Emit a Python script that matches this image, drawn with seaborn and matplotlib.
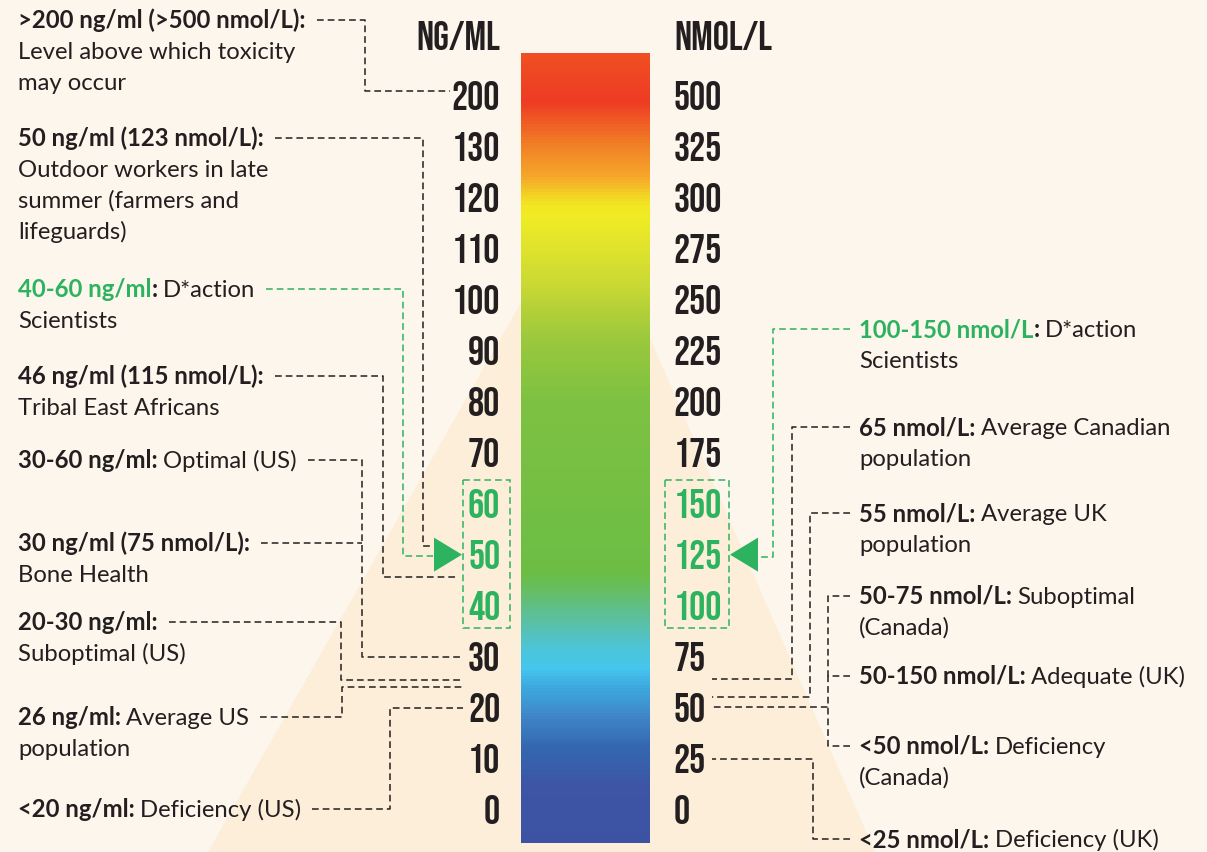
import numpy as np
import matplotlib
matplotlib.use("Agg")
import matplotlib.pyplot as plt
from matplotlib import font_manager as fm
from matplotlib.colors import LinearSegmentedColormap
from matplotlib.patches import Polygon, Rectangle
import seaborn as sns

# ---------------- data ----------------
ng_ml = ["200", "130", "120", "110", "100", "90", "80", "70",
         "60", "50", "40", "30", "20", "10", "0"]
nmol_l = ["500", "325", "300", "275", "250", "225", "200", "175",
          "150", "125", "100", "75", "50", "25", "0"]
optimal_rows = [8, 9, 10]          # 60/50/40 ng/ml = 150/125/100 nmol/L
arrow_row = 9

# colour ramp of the bar, top -> bottom
bar_stops = [(0.00, "#F04E23"), (0.06, "#EE3B24"), (0.11, "#F07A24"),
             (0.155, "#F5A82A"), (0.19, "#F2E622"), (0.205, "#F0EC24"),
             (0.29, "#CBD934"), (0.36, "#9BC83C"), (0.44, "#7DC142"),
             (0.66, "#6CBD45"), (0.69, "#64BE72"), (0.72, "#5BBFA3"),
             (0.755, "#4DC4D8"), (0.78, "#45C6EE"), (0.805, "#3EA8DE"),
             (0.84, "#3F87C8"), (0.88, "#3467B0"), (0.93, "#3D55A4"),
             (1.00, "#3D52A3")]

left_heads = [">200 ng/ml (>500 nmol/L):", "50 ng/ml (123 nmol/L):",
              "40-60 ng/ml:", "46 ng/ml (115 nmol/L):", "30-60 ng/ml:",
              "30 ng/ml (75 nmol/L):", "20-30 ng/ml:", "26 ng/ml:",
              "<20 ng/ml:"]
left_tails = ["", "", "D*action", "", "Optimal (US)", "", "",
              "Average US", "Deficiency (US)"]
left_more = [["Level above which toxicity", "may occur"],
             ["Outdoor workers in late", "summer (farmers and", "lifeguards)"],
             ["Scientists"], ["Tribal East Africans"], [], ["Bone Health"],
             ["Suboptimal (US)"], ["population"], []]
left_green = [2]

right_heads = ["100-150 nmol/L:", "65 nmol/L:", "55 nmol/L:", "50-75 nmol/L:",
               "50-150 nmol/L:", "<50 nmol/L:", "<25 nmol/L:"]
right_tails = ["D*action", "Average Canadian", "Average UK", "Suboptimal",
               "Adequate (UK)", "Deficiency", "Deficiency (UK)"]
right_more = [["Scientists"], ["population"], ["population"], ["(Canada)"],
              [], ["(Canada)"], []]
right_green = [0]

# ---------------- fonts ----------------
static = [f for f in fm.fontManager.ttflist if "[" not in f.fname]


def has_weights(name):
    w = {f.weight for f in static if f.name == name}
    return 400 in w and any(x >= 600 for x in w if isinstance(x, int))


def pick(names, need_bold=False):
    found = [n for n in names
             if any(f.name == n for f in static) and (not need_bold or has_weights(n))]
    return found + ["DejaVu Sans"]


BODY = pick(["Source Sans Pro", "Source Sans 3", "Lato"], need_bold=True)
COND = pick(["Bebas Neue", "Oswald", "Yanone Kaffeesatz"])
FS = 17.2
CFS = 29 if COND[0] == "Bebas Neue" else 22
CW = "normal" if COND[0] == "Bebas Neue" else "bold"

# ---------------- style / layout ----------------
W, H = 1207, 852
BG = "#FCF6EC"
TRI = "#FDEEDA"
INK = "#231F20"
GREEN = "#2DB35F"
LINE_GAP = 31
ROW0, ROW_STEP = 95, 51.07
BAR_L, BAR_T, BAR_W, BAR_H = 521, 53, 129, 790
LEFT_X, RIGHT_X = 18, 859
DASH = (0, (4.4, 2.6))


def row_y(r):
    return ROW0 + r * ROW_STEP


left_note_y = [20, 138, 289, 376, 460, 543, 622, 717, 809]
right_note_y = [329, 427, 513, 596, 676, 746, 839]
# connector: (elbow x, end y, end x)
left_links = [(365, row_y(0) - 4, 450), (423, row_y(9) - 9, 433),
              (403, row_y(9) + 1, 433), (383, row_y(9) + 22, 458),
              (362, row_y(11), 463), (362, 543, 362), (341, 680, 463),
              (342, 687, 463), (390, row_y(12), 463)]
right_links = [(773, row_y(9) + 2, 758), (792, 679, 712), (810, 697, 712),
               (828, 676, 828), (828, 707, 712), (828, 707, 828),
               (813, row_y(13), 712)]

sns.set_theme(style="white")
plt.rcParams["font.family"] = BODY

fig = plt.figure(figsize=(W / 100, H / 100), dpi=100)
fig.patch.set_facecolor(BG)
ax = fig.add_axes([0, 0, 1, 1])
ax.set_xlim(0, W)
ax.set_ylim(H, 0)
ax.axis("off")
ax.add_patch(Polygon([(585, 190), (208, H), (875, H)], closed=True,
                     fc=TRI, ec="none", zorder=0))

# ---------------- gradient bar + scales ----------------
axb = fig.add_axes([BAR_L / W, (H - BAR_T - BAR_H) / H, BAR_W / W, BAR_H / H])
ramp = np.linspace(0, 1, BAR_H)[:, None]
cmap = LinearSegmentedColormap.from_list("vitd", bar_stops)
sns.heatmap(ramp, ax=axb, cmap=cmap, cbar=False, vmin=0, vmax=1,
            xticklabels=False, yticklabels=False)

pos = [row_y(i) - BAR_T for i in range(len(ng_ml))]
tick_font = dict(fontsize=CFS, fontweight=CW, family=COND, color=INK)
axb.set_yticks(pos)
axb.set_yticklabels(ng_ml, **tick_font)
axb.tick_params(axis="y", length=0, pad=15, left=True)
axr = axb.twinx()
axr.set_ylim(axb.get_ylim())
axr.set_yticks(pos)
axr.set_yticklabels(nmol_l, **tick_font)
axr.tick_params(axis="y", length=0, pad=17)
axr.grid(False)
for a in (axb, axr):
    for s in a.spines.values():
        s.set_visible(False)
for i in optimal_rows:
    axb.get_yticklabels()[i].set_color(GREEN)
    axr.get_yticklabels()[i].set_color(GREEN)

ax.text(500, 50, "NG/ML", ha="right", va="baseline", **tick_font)
ax.text(674, 50, "NMOL/L", ha="left", va="baseline", **tick_font)

# optimal boxes and arrows
for x0, x1 in [(463, 510), (665, 729)]:
    ax.add_patch(Rectangle((x0, 480), x1 - x0, 148, fill=False, ec=GREEN,
                           lw=1.1, ls=DASH, zorder=3))
ya = row_y(arrow_row)
ax.add_patch(Polygon([(434, ya - 17), (434, ya + 17), (462, ya)],
                     closed=True, fc=GREEN, ec="none", zorder=4))
ax.add_patch(Polygon([(758, ya - 17), (758, ya + 17), (730, ya)],
                     closed=True, fc=GREEN, ec="none", zorder=4))

# ---------------- notes ----------------
renderer = fig.canvas.get_renderer()
BASE = 8
SPACE = FS * 100 / 72 * 0.23


def note(x, y, head, tail, more, green):
    if green:
        segs = [(head[:-1], "bold", GREEN), (":", "bold", INK)]
    else:
        segs = [(head, "bold", INK)]
    cx = x
    for txt, wt, col in segs:
        t = ax.text(cx, y + BASE, txt, fontsize=FS, fontweight=wt, color=col,
                    family=BODY, va="baseline", ha="left")
        cx = t.get_window_extent(renderer).x1
    if tail:
        t = ax.text(cx + SPACE, y + BASE, tail, fontsize=FS, color=INK,
                    family=BODY, va="baseline", ha="left")
        cx = t.get_window_extent(renderer).x1
    for k, line in enumerate(more):
        ax.text(x, y + BASE + (k + 1) * LINE_GAP, line, fontsize=FS,
                color=INK, family=BODY, va="baseline", ha="left")
    return cx


for i, head in enumerate(left_heads):
    y = left_note_y[i]
    end = note(LEFT_X, y, head, left_tails[i], left_more[i], i in left_green)
    ex, ey, tx = left_links[i]
    col = GREEN if i in left_green else INK
    ax.plot([end + 11, ex, ex, tx], [y, y, ey, ey], color=col, lw=1.1,
            ls=DASH, zorder=2)

for i, head in enumerate(right_heads):
    y = right_note_y[i]
    note(RIGHT_X, y, head, right_tails[i], right_more[i], i in right_green)
    ex, ey, tx = right_links[i]
    col = GREEN if i in right_green else INK
    ax.plot([RIGHT_X - 9, ex, ex, tx], [y, y, ey, ey], color=col, lw=1.1,
            ls=DASH, zorder=2)

fig.savefig("out.png", dpi=100, facecolor=BG)
